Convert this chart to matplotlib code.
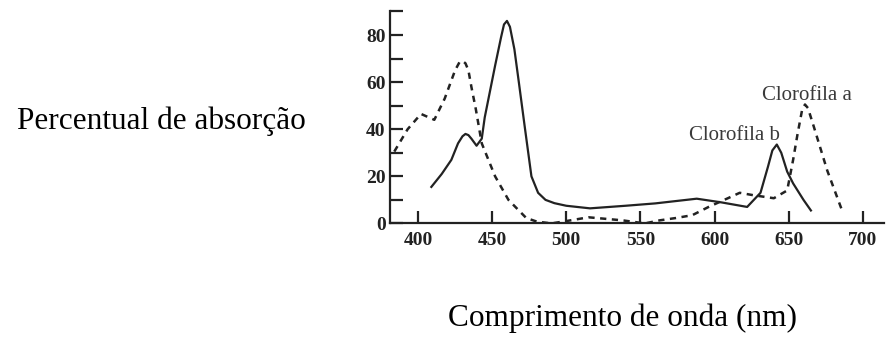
# Chlorophyll a / b absorption spectra
# ============================================================

import matplotlib
matplotlib.use("Agg")
import matplotlib.pyplot as plt

# Clorofila a (dashed)
wl_a = [384, 393, 402, 411, 418, 425, 428, 430, 432, 434, 436, 439, 443,
        452, 461, 473, 480, 490, 500, 515, 538, 553, 563, 574, 585, 596,
        609, 617, 626, 640, 649, 653, 656, 659, 661, 663, 667, 676, 686]
abs_a = [30.5, 40, 46.5, 44, 53, 65, 68.5, 69, 68, 65, 58, 48.5, 34,
         20, 10, 2.3, 0.8, 0, 1, 2.6, 1.3, 0, 1.3, 2.3, 3.5, 7,
         10.7, 13, 12, 10.7, 14, 27, 38, 48, 50.5, 49, 41, 22.5, 5.5]

# Clorofila b (solid)
wl_b = [409, 416, 422.5, 427, 430, 432, 434, 436, 439.5, 443, 445, 452,
        456, 458, 460, 462, 465, 468, 472, 476.5, 481, 486, 492, 500,
        516, 540, 560, 588, 604, 622, 631, 636, 639, 642, 645, 649, 653,
        660, 665]
abs_b = [15.5, 21, 27, 34, 37, 38, 37.5, 36, 33, 36, 45, 67,
         79, 84.5, 86, 83.5, 74, 60, 41, 20, 13, 10, 8.6, 7.5,
         6.4, 7.5, 8.5, 10.5, 9, 7, 13, 24, 31, 33.5, 30, 22, 17,
         10, 5.5]

x_ticks = [400, 450, 500, 550, 600, 650, 700]
y_ticks = [0, 20, 40, 60, 80]
y_minor = [10, 30, 50, 70, 90]

plt.rcParams['font.family'] = ['Liberation Serif', 'DejaVu Serif']

fig = plt.figure(figsize=(8.88, 3.38), dpi=100)
ax = fig.add_axes([0.439, 0.339, 0.556, 0.627])

ink = '#222222'
ax.plot(wl_a, abs_a, color=ink, linewidth=1.8, linestyle=(0, (2.5, 2.2)))
ax.plot(wl_b, abs_b, color=ink, linewidth=1.6)

ax.text(662, 54.5, "Clorofila a", ha='center', va='center',
        fontsize=15, color='#3a3a3a')
ax.text(613.5, 37.5, "Clorofila b", ha='center', va='center',
        fontsize=15, color='#3a3a3a')

ax.set_xlim(381, 714)
ax.set_ylim(0, 90)
ax.spines['top'].set_visible(False)
ax.spines['right'].set_visible(False)
ax.spines['left'].set_linewidth(1.6)
ax.spines['bottom'].set_linewidth(1.6)
ax.spines['left'].set_color(ink)
ax.spines['bottom'].set_color(ink)

ax.set_xticks(x_ticks)
ax.set_yticks(y_ticks)
ax.set_yticks(y_minor, minor=True)
ax.tick_params(axis='x', direction='in', length=9, width=1.6, pad=6,
               labelsize=14, colors=ink)
ax.tick_params(axis='y', which='both', direction='in', length=9, width=1.6,
               pad=3, labelsize=14, colors=ink)
for lab in ax.get_xticklabels() + ax.get_yticklabels():
    lab.set_fontweight('bold')

ax.set_xlabel("Comprimento de onda (nm)", fontsize=22.5, color='black')
ax.xaxis.set_label_coords(0.472, -0.4475)
ax.xaxis.label.set_va('center')
ax.set_ylabel("Percentual de absorção", fontsize=22.5, rotation=0,
              ha='right', va='center', color='black')
ax.yaxis.set_label_coords(-0.171, 0.48)

fig.savefig("out.png", dpi=100)
